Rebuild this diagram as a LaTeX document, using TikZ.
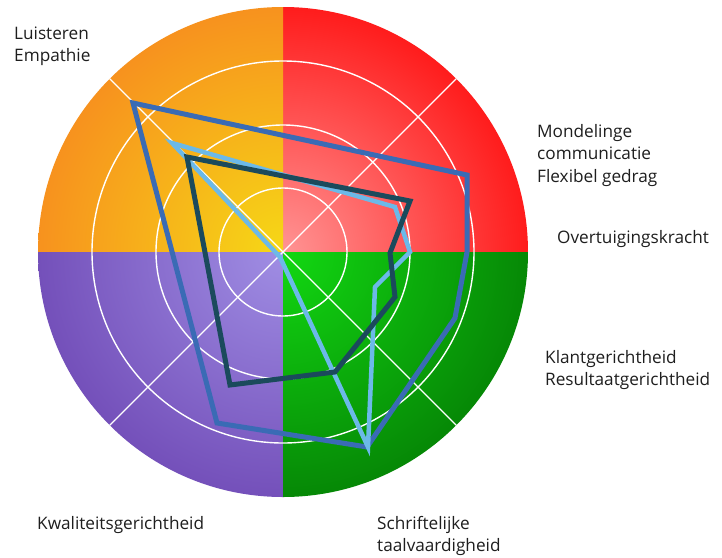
\documentclass[tikz,border=0pt]{standalone}
\usepackage{fontspec}
\setmainfont{Open Sans}
\definecolor{redin}{HTML}{FF9494}
\definecolor{redout}{HTML}{FF1C1C}
\definecolor{orin}{HTML}{F6D816}
\definecolor{orout}{HTML}{F7921E}
\definecolor{puin}{HTML}{A08EE4}
\definecolor{puout}{HTML}{7450BA}
\definecolor{grin}{HTML}{12D812}
\definecolor{grout}{HTML}{068806}
\definecolor{midblue}{HTML}{3A6BB5}
\definecolor{navy}{HTML}{1B4A5C}
\definecolor{lightblue}{HTML}{6CB9E8}
\definecolor{labeltext}{HTML}{1E1E1E}
\pgfdeclareradialshading{qred}{\pgfpointorigin}{color(0bp)=(redin); color(25bp)=(redout); color(50bp)=(redout)}
\pgfdeclareradialshading{qorange}{\pgfpointorigin}{color(0bp)=(orin); color(25bp)=(orout); color(50bp)=(orout)}
\pgfdeclareradialshading{qpurple}{\pgfpointorigin}{color(0bp)=(puin); color(25bp)=(puout); color(50bp)=(puout)}
\pgfdeclareradialshading{qgreen}{\pgfpointorigin}{color(0bp)=(grin); color(25bp)=(grout); color(50bp)=(grout)}
\tikzset{
  gridline/.style={draw=white, line width=1.4pt},
  series/.style={line width=5pt, line join=miter},
  lbl/.style={anchor=base west, inner sep=0pt, text=labeltext, font=\fontsize{17.2}{22}\selectfont},
}
\begin{document}
\begin{tikzpicture}[x=1pt,y=-1pt]
\useasboundingbox (0,0) rectangle (722,557);
\coordinate (c) at (283,252);
% quadrants
\begin{scope}
  \clip (c) rectangle ++(245,-245);
  \shade[shading=qred] (c) circle[radius=245];
\end{scope}
\begin{scope}
  \clip (c) rectangle ++(-245,-245);
  \shade[shading=qorange] (c) circle[radius=245];
\end{scope}
\begin{scope}
  \clip (c) rectangle ++(-245,245);
  \shade[shading=qpurple] (c) circle[radius=245];
\end{scope}
\begin{scope}
  \clip (c) rectangle ++(245,245);
  \shade[shading=qgreen] (c) circle[radius=245];
\end{scope}
% grid
\path[gridline] (c) circle[radius=64] (c) circle[radius=127] (c) circle[radius=191];
\path[gridline] (c) -- +(45:245) (c) -- +(135:245) (c) -- +(225:245) (c) -- +(315:245);
% medium blue series
\coordinate (m1) at (133,103);
\coordinate (m2) at (467,175);
\coordinate (m3) at (467,252);
\coordinate (m4) at (455,318);
\coordinate (m5) at (367,447);
\coordinate (m6) at (217,423);
\draw[series, midblue] (m1) -- (m2) -- (m3) -- (m4) -- (m5) -- (m6) -- cycle;
% light blue series
\coordinate (l1) at (172,143);
\coordinate (l2) at (395,207);
\coordinate (l3) at (410,252);
\coordinate (l4) at (375,287);
\coordinate (l5) at (368,447);
\coordinate (l6) at (280,257);
\draw[series, line width=4.5pt, lightblue] (l1) -- (l2) -- (l3) -- (l4) -- (l5) -- (l6) -- cycle;
% navy series
\coordinate (n1) at (187,157);
\coordinate (n2) at (410,201);
\coordinate (n3) at (390,253);
\coordinate (n4) at (395,297);
\coordinate (n5) at (335,372);
\coordinate (n6) at (230,385);
\draw[series, navy] (n1) -- (n2) -- (n3) -- (n4) -- (n5) -- (n6) -- cycle;
% labels
\node[lbl] (t1a) at (14,39) {Luisteren};
\node[lbl] (t1b) at (14,61) {Empathie};
\node[lbl] (t2a) at (537,137) {Mondelinge};
\node[lbl] (t2b) at (537,159) {communicatie};
\node[lbl] (t2c) at (537,182) {Flexibel gedrag};
\node[lbl] (t3) at (557,243) {Overtuigingskracht};
\node[lbl] (t4a) at (545,363) {Klantgerichtheid};
\node[lbl] (t4b) at (545,385) {Resultaatgerichtheid};
\node[lbl] (t5a) at (377,529) {Schriftelijke};
\node[lbl] (t5b) at (377,551) {taalvaardigheid};
\node[lbl] (t6) at (37,529) {Kwaliteitsgerichtheid};
\end{tikzpicture}
\end{document}
